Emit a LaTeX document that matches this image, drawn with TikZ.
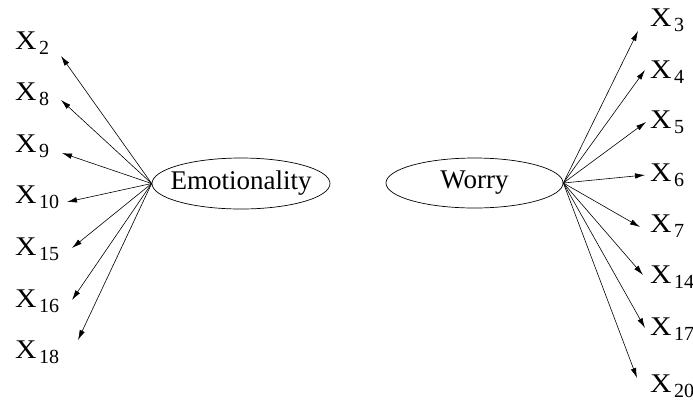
\documentclass[tikz,border=0pt]{standalone}
\usepackage{fontspec}
\setmainfont{Liberation Serif}
\usepackage{tikz}
\usetikzlibrary{arrows.meta,shapes.geometric}

\newcommand{\xsub}[1]{\scalebox{1.1}[1]{X}\kern2.5pt\raisebox{-5pt}{\fontsize{20}{20}\selectfont #1}}

\begin{document}
\begin{tikzpicture}[
  x=1pt, y=-1pt,
  factor/.style={draw, ellipse, inner sep=0pt, line width=0.7pt, font=\fontsize{27}{30}\selectfont},
  item/.style={anchor=base west, inner sep=0pt, font=\fontsize{27}{30}\selectfont},
  arr/.style={-{Latex[length=10pt,width=5.5pt]}, line width=0.6pt}
]
  \useasboundingbox (0,0) rectangle (693,400);

  % the two factors
  \node[factor, minimum width=178pt, minimum height=51pt] (emo) at (241,183.5) {\makebox[0pt]{Emotionality}};
  \node[factor, minimum width=177pt, minimum height=50pt] (worry) at (474.5,183) {\makebox[0pt]{Worry}};

  % items of the first factor
  \node[item] (x2) at (15,49) {\xsub{2}};
  \node[item] (x8) at (15,100) {\xsub{8}};
  \node[item] (x9) at (15,152) {\xsub{9}};
  \node[item] (x10) at (15,203) {\xsub{10}};
  \node[item] (x15) at (15,255) {\xsub{15}};
  \node[item] (x16) at (15,307) {\xsub{16}};
  \node[item] (x18) at (15,358) {\xsub{18}};

  % items of the second factor
  \node[item] (x3) at (650,26) {\xsub{3}};
  \node[item] (x4) at (650,78) {\xsub{4}};
  \node[item] (x5) at (650,128) {\xsub{5}};
  \node[item] (x6) at (650,181) {\xsub{6}};
  \node[item] (x7) at (650,232) {\xsub{7}};
  \node[item] (x14) at (650,283) {\xsub{14}};
  \node[item] (x17) at (650,335) {\xsub{17}};
  \node[item] (x20) at (650,392) {\xsub{20}};

  % arrow tips
  \coordinate (t2) at (61,56);
  \coordinate (t8) at (61,100);
  \coordinate (t9) at (62,153);
  \coordinate (t10) at (67,202);
  \coordinate (t15) at (72,248);
  \coordinate (t16) at (72,300);
  \coordinate (t18) at (78,340);

  \coordinate (t3) at (638,31);
  \coordinate (t4) at (645,70);
  \coordinate (t5) at (646,122);
  \coordinate (t6) at (645,175);
  \coordinate (t7) at (640,227);
  \coordinate (t14) at (643,275);
  \coordinate (t17) at (645,328);
  \coordinate (t20) at (637,378);

  \draw[arr] (emo.west) -- (t2);
  \draw[arr] (emo.west) -- (t8);
  \draw[arr] (emo.west) -- (t9);
  \draw[arr] (emo.west) -- (t10);
  \draw[arr] (emo.west) -- (t15);
  \draw[arr] (emo.west) -- (t16);
  \draw[arr] (emo.west) -- (t18);

  \draw[arr] (worry.east) -- (t3);
  \draw[arr] (worry.east) -- (t4);
  \draw[arr] (worry.east) -- (t5);
  \draw[arr] (worry.east) -- (t6);
  \draw[arr] (worry.east) -- (t7);
  \draw[arr] (worry.east) -- (t14);
  \draw[arr] (worry.east) -- (t17);
  \draw[arr] (worry.east) -- (t20);
\end{tikzpicture}
\end{document}
